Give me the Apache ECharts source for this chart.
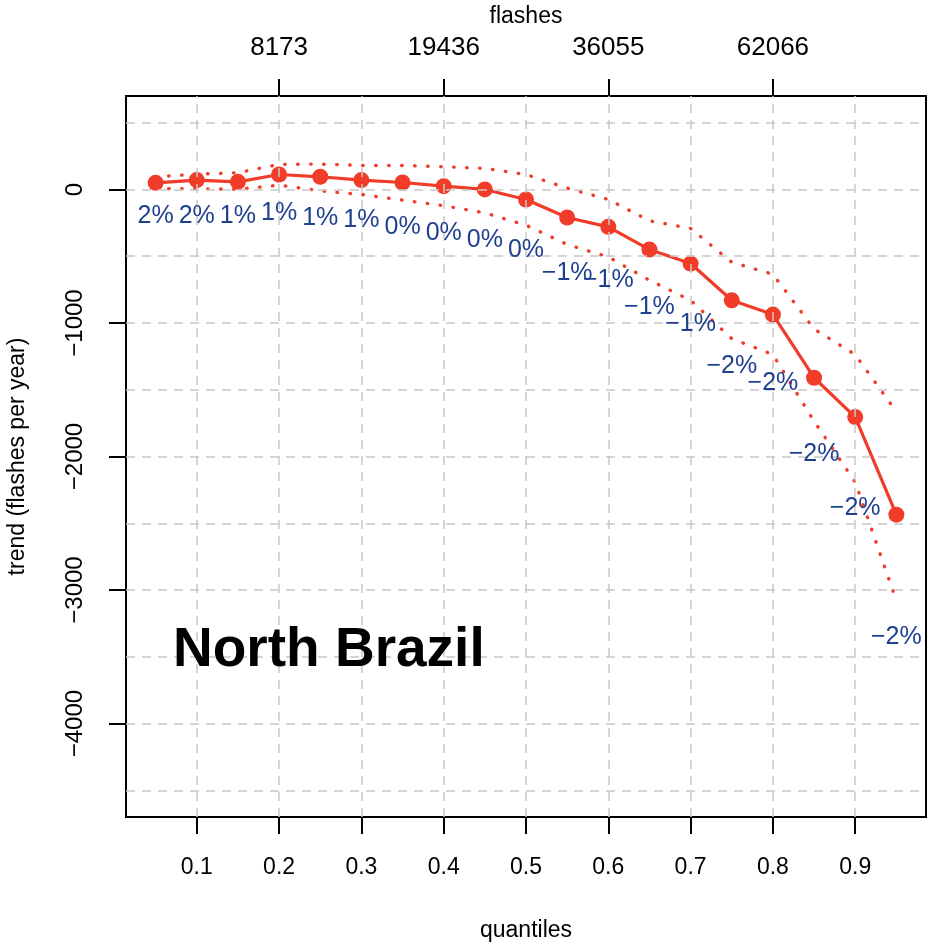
<!DOCTYPE html>
<html>
<head>
<meta charset="utf-8">
<script src="https://cdn.jsdelivr.net/npm/echarts@6/dist/echarts.min.js"></script>
<style>
  html, body { margin: 0; padding: 0; background: #fff; }
  #chart { width: 933px; height: 951px; }
</style>
</head>
<body>
<div id="chart"></div>
<script>
// values
const quantiles = [0.05, 0.1, 0.15, 0.2, 0.25, 0.3, 0.35, 0.4, 0.45, 0.5, 0.55, 0.6, 0.65, 0.7, 0.75, 0.8, 0.85, 0.9, 0.95];
const trend = [50, 70, 57, 112, 95, 70, 52, 25, 0, -75, -210, -280, -450, -555, -830, -937, -1410, -1705, -2436];
const upper = [95, 115, 125, 188, 190, 180, 180, 170, 158, 112, 10, -75, -235, -292, -545, -635, -1045, -1237, -1665];
const lower = [7, 5, 2, 32, -10, -38, -80, -122, -175, -268, -412, -505, -680, -830, -1117, -1237, -1735, -2192, -3079];
const pctLabels = ['2%', '2%', '1%', '1%', '1%', '1%', '0%', '0%', '0%', '0%', '−1%', '−1%', '−1%', '−1%', '−2%', '−2%', '−2%', '−2%', '−2%'];
const pctLabelY = [-198, -198, -198, -180, -217, -230, -280, -330, -380, -455, -630, -680, -880, -1010, -1325, -1450, -1980, -2384, -3356];

const xTicks = [0.1, 0.2, 0.3, 0.4, 0.5, 0.6, 0.7, 0.8, 0.9];
const yTicks = [-4000, -3000, -2000, -1000, 0];
const yGrid = [-4500, -4000, -3500, -3000, -2500, -2000, -1500, -1000, -500, 0, 500];
const flashQuantiles = [0.2, 0.4, 0.6, 0.8];
const flashLabels = ['8173', '19436', '36055', '62066'];

const RED = '#F03C28';
const BLUE = '#1F3F8F';
const FONT = 'Liberation Sans, Arial, Helvetica, sans-serif';

const pair = (ys) => quantiles.map((q, i) => [q, ys[i]]);

const chart = echarts.init(document.getElementById('chart'), null, { renderer: 'canvas' });

const dotted = {
  color: RED,
  width: 3.4,
  type: [0.5, 12.5],
  cap: 'round'
};

const tickStyle = { color: '#000', width: 2 };

const option = {
  animation: false,
  textStyle: { fontFamily: FONT },
  grid: {
    left: 126, top: 96, width: 800, height: 721,
    containLabel: false, outerBoundsMode: 'none',
    show: true, borderColor: '#000', borderWidth: 2, backgroundColor: 'transparent'
  },
  xAxis: [
    {
      type: 'value', position: 'bottom', min: 0.014, max: 0.986,
      name: 'quantiles', nameLocation: 'middle', nameGap: 102,
      nameTextStyle: { fontSize: 23, color: '#000', fontFamily: FONT },
      axisLine: { show: false, onZero: false },
      axisTick: { show: true, length: 17, customValues: xTicks, lineStyle: tickStyle },
      axisLabel: { customValues: xTicks, margin: 39, fontSize: 23, color: '#000', fontFamily: FONT,
        formatter: (v) => String(v) },
      splitLine: { show: false }
    },
    {
      type: 'value', position: 'top', min: 0.014, max: 0.986,
      name: 'flashes', nameLocation: 'middle', nameGap: 68,
      nameTextStyle: { fontSize: 23, color: '#000', fontFamily: FONT },
      axisLine: { show: false, onZero: false },
      axisTick: { show: true, length: 17, customValues: flashQuantiles, lineStyle: tickStyle },
      axisLabel: { customValues: flashQuantiles, margin: 35, fontSize: 26, color: '#000', fontFamily: FONT,
        formatter: (v) => {
          const i = flashQuantiles.findIndex(q => Math.abs(q - v) < 1e-9);
          return i >= 0 ? flashLabels[i] : '';
        } },
      splitLine: { show: false }
    }
  ],
  yAxis: {
    type: 'value', min: -4700, max: 700,
    name: 'trend (flashes per year)', nameLocation: 'middle', nameGap: 97,
    nameTextStyle: { fontSize: 23, color: '#000', fontFamily: FONT },
    axisLine: { show: false, onZero: false },
    axisTick: { show: true, length: 17, customValues: yTicks, lineStyle: tickStyle },
    axisLabel: { customValues: yTicks, rotate: 90, margin: 39, fontSize: 24, color: '#000', fontFamily: FONT,
      formatter: (v) => String(v).replace('-', '−') },
    splitLine: { show: false }
  },
  graphic: [
    {
      type: 'text', x: 173, y: 651,
      style: { text: 'North Brazil', font: 'bold 55px ' + FONT, fill: '#000', verticalAlign: 'middle' },
      z: 10
    }
  ],
  series: [
    {
      name: 'grid',
      type: 'line',
      data: [],
      silent: true,
      z: 1,
      markLine: {
        silent: true,
        symbol: ['none', 'none'],
        label: { show: false },
        lineStyle: { color: '#c8c8c8', type: [9, 7], width: 1.5 },
        emphasis: { disabled: true },
        data: xTicks.map(v => ({ xAxis: v })).concat(yGrid.map(v => ({ yAxis: v })))
      }
    },
    {
      name: 'upper',
      type: 'line',
      data: pair(upper),
      symbol: 'none',
      lineStyle: dotted,
      z: 3
    },
    {
      name: 'lower',
      type: 'line',
      data: pair(lower),
      symbol: 'none',
      lineStyle: dotted,
      z: 3
    },
    {
      name: 'trend',
      type: 'line',
      data: pair(trend),
      symbol: 'circle',
      symbolSize: 16,
      itemStyle: { color: RED },
      lineStyle: { color: RED, width: 3.2 },
      z: 4
    },
    {
      name: 'pct',
      type: 'scatter',
      data: pair(pctLabelY),
      symbolSize: 1,
      itemStyle: { color: 'rgba(0,0,0,0)', opacity: 1 },
      label: {
        show: true,
        position: 'inside',
        fontSize: 25,
        color: BLUE,
        opacity: 1,
        textBorderWidth: 0,
        fontFamily: FONT,
        formatter: (p) => pctLabels[p.dataIndex]
      },
      z: 5
    }
  ]
};

chart.setOption(option);
</script>
</body>
</html>
